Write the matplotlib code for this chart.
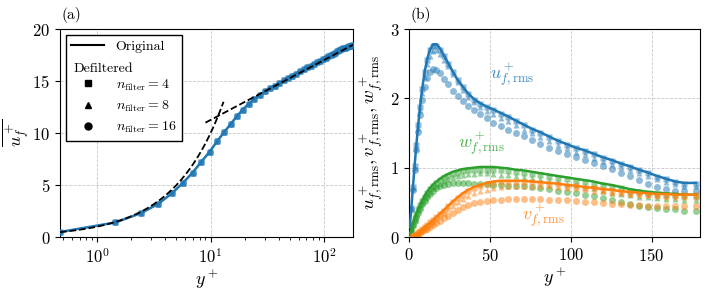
import numpy as np
import matplotlib
matplotlib.use("Agg")
import matplotlib.pyplot as plt
from matplotlib.lines import Line2D

plt.rcParams['font.family'] = 'serif'
plt.rcParams['font.serif'] = ['cmr10', 'DejaVu Serif']
plt.rcParams['mathtext.fontset'] = 'cm'
plt.rcParams['axes.formatter.use_mathtext'] = True
plt.rcParams['font.size'] = 10

# ---------------- data ----------------
yplus = [0.47, 1.45, 2.44, 3.47, 4.55, 5.70, 6.95, 8.30, 9.80, 11.4, 13.1, 15.0,
         17.0, 19.2, 21.6, 24.2, 27.0, 30.0, 33.2, 36.6, 40.2, 44.0, 48.0, 52.2,
         56.6, 61.2, 66.0, 71.0, 76.1, 81.3, 86.6, 92.0, 97.5, 103.0, 108.6, 114.2,
         119.8, 125.4, 131.0, 136.6, 142.2, 147.8, 153.4, 159.0, 164.6, 170.2, 177.5]

u_mean = [0.48, 1.4, 2.3, 3.2, 4.2, 5.2, 6.2, 7.25, 8.2, 9.2, 10.05, 10.85,
          11.6, 12.25, 12.8, 13.25, 13.65, 14.0, 14.3, 14.55, 14.8, 15.05, 15.3, 15.5,
          15.72, 15.92, 16.12, 16.3, 16.48, 16.65, 16.8, 16.95, 17.1, 17.25, 17.38, 17.5,
          17.62, 17.74, 17.85, 17.95, 18.05, 18.13, 18.2, 18.27, 18.32, 18.37, 18.42]

# rms profiles: original and defiltered (n_filter = 4, 8, 16)
u_rms_orig = [0.14, 0.42, 0.72, 1.03, 1.33, 1.62, 1.9, 2.16, 2.4, 2.58, 2.71, 2.78,
              2.78, 2.72, 2.62, 2.51, 2.39, 2.27, 2.17, 2.07, 1.99, 1.93, 1.88, 1.84,
              1.79, 1.74, 1.68, 1.62, 1.56, 1.51, 1.45, 1.39, 1.34, 1.29, 1.25, 1.2,
              1.15, 1.11, 1.06, 1.02, 0.97, 0.93, 0.88, 0.84, 0.80, 0.78, 0.78]
u_rms_n4 = [0.14, 0.42, 0.72, 1.02, 1.32, 1.61, 1.88, 2.14, 2.38, 2.56, 2.69, 2.76,
            2.76, 2.70, 2.61, 2.50, 2.38, 2.26, 2.16, 2.06, 1.98, 1.92, 1.87, 1.83,
            1.78, 1.73, 1.67, 1.61, 1.55, 1.50, 1.44, 1.38, 1.33, 1.28, 1.24, 1.19,
            1.14, 1.10, 1.05, 1.01, 0.96, 0.92, 0.87, 0.83, 0.79, 0.77, 0.77]
u_rms_n8 = [0.13, 0.41, 0.70, 1.0, 1.29, 1.57, 1.83, 2.08, 2.31, 2.49, 2.61, 2.68,
            2.69, 2.64, 2.56, 2.46, 2.35, 2.23, 2.12, 2.02, 1.94, 1.87, 1.82, 1.77,
            1.72, 1.67, 1.61, 1.55, 1.5, 1.44, 1.39, 1.33, 1.28, 1.23, 1.19, 1.14,
            1.1, 1.05, 1.01, 0.97, 0.92, 0.88, 0.84, 0.8, 0.76, 0.74, 0.73]
u_rms_n16 = [0.13, 0.4, 0.68, 0.97, 1.25, 1.52, 1.76, 1.98, 2.16, 2.3, 2.38, 2.42,
             2.41, 2.36, 2.28, 2.2, 2.11, 2.03, 1.96, 1.89, 1.83, 1.77, 1.71, 1.65,
             1.6, 1.55, 1.5, 1.45, 1.4, 1.34, 1.29, 1.24, 1.19, 1.15, 1.11, 1.07,
             1.03, 0.98, 0.93, 0.88, 0.82, 0.77, 0.72, 0.69, 0.67, 0.66, 0.66]

v_rms_orig = [0.0, 0.01, 0.02, 0.03, 0.05, 0.07, 0.09, 0.12, 0.15, 0.18, 0.21, 0.25,
              0.29, 0.34, 0.39, 0.45, 0.51, 0.57, 0.63, 0.68, 0.72, 0.75, 0.78, 0.8,
              0.81, 0.81, 0.81, 0.81, 0.8, 0.79, 0.78, 0.77, 0.75, 0.74, 0.72, 0.71,
              0.69, 0.68, 0.66, 0.65, 0.64, 0.63, 0.62, 0.62, 0.61, 0.61, 0.61]
v_rms_n4 = [0.0, 0.01, 0.02, 0.03, 0.05, 0.07, 0.09, 0.12, 0.15, 0.18, 0.21, 0.25,
            0.29, 0.33, 0.38, 0.44, 0.5, 0.56, 0.61, 0.66, 0.7, 0.73, 0.76, 0.78,
            0.79, 0.8, 0.8, 0.8, 0.79, 0.78, 0.77, 0.76, 0.74, 0.73, 0.71, 0.7,
            0.68, 0.67, 0.65, 0.64, 0.63, 0.62, 0.61, 0.61, 0.6, 0.6, 0.6]
v_rms_n8 = [0.0, 0.01, 0.02, 0.03, 0.04, 0.06, 0.08, 0.1, 0.13, 0.16, 0.19, 0.22,
            0.26, 0.3, 0.35, 0.4, 0.45, 0.5, 0.55, 0.59, 0.63, 0.66, 0.68, 0.7,
            0.72, 0.73, 0.74, 0.74, 0.74, 0.73, 0.73, 0.72, 0.71, 0.7, 0.69, 0.67,
            0.66, 0.64, 0.63, 0.62, 0.61, 0.6, 0.59, 0.58, 0.58, 0.57, 0.57]
v_rms_n16 = [0.0, 0.01, 0.01, 0.02, 0.03, 0.05, 0.06, 0.08, 0.1, 0.12, 0.14, 0.17,
             0.2, 0.23, 0.27, 0.31, 0.35, 0.39, 0.43, 0.46, 0.49, 0.51, 0.52, 0.53,
             0.54, 0.55, 0.55, 0.55, 0.55, 0.55, 0.54, 0.54, 0.53, 0.52, 0.51, 0.5,
             0.49, 0.48, 0.47, 0.46, 0.46, 0.45, 0.45, 0.44, 0.44, 0.44, 0.44]

w_rms_orig = [0.04, 0.12, 0.2, 0.27, 0.34, 0.41, 0.47, 0.54, 0.6, 0.66, 0.71, 0.76,
              0.8, 0.84, 0.88, 0.91, 0.94, 0.96, 0.98, 0.99, 1.0, 1.01, 1.01, 1.01,
              1.0, 0.99, 0.97, 0.96, 0.94, 0.92, 0.9, 0.88, 0.86, 0.84, 0.82, 0.8,
              0.77, 0.75, 0.72, 0.69, 0.67, 0.65, 0.64, 0.63, 0.62, 0.61, 0.61]
w_rms_n4 = [0.04, 0.12, 0.19, 0.26, 0.33, 0.4, 0.46, 0.52, 0.58, 0.64, 0.69, 0.74,
            0.78, 0.82, 0.85, 0.88, 0.91, 0.93, 0.95, 0.96, 0.97, 0.97, 0.97, 0.97,
            0.96, 0.95, 0.94, 0.93, 0.91, 0.89, 0.87, 0.85, 0.83, 0.81, 0.79, 0.77,
            0.75, 0.72, 0.7, 0.67, 0.65, 0.63, 0.62, 0.61, 0.6, 0.59, 0.59]
w_rms_n8 = [0.04, 0.11, 0.18, 0.25, 0.31, 0.37, 0.43, 0.49, 0.55, 0.6, 0.65, 0.7,
            0.74, 0.77, 0.81, 0.84, 0.86, 0.88, 0.9, 0.91, 0.91, 0.92, 0.92, 0.91,
            0.9, 0.89, 0.88, 0.87, 0.85, 0.83, 0.81, 0.79, 0.77, 0.75, 0.73, 0.7,
            0.67, 0.64, 0.62, 0.6, 0.58, 0.57, 0.56, 0.55, 0.55, 0.54, 0.54]
w_rms_n16 = [0.03, 0.1, 0.17, 0.23, 0.29, 0.35, 0.41, 0.47, 0.52, 0.57, 0.62, 0.66,
             0.7, 0.73, 0.75, 0.77, 0.78, 0.78, 0.78, 0.78, 0.77, 0.77, 0.76, 0.75,
             0.75, 0.74, 0.74, 0.73, 0.72, 0.71, 0.69, 0.67, 0.65, 0.63, 0.61, 0.59,
             0.56, 0.53, 0.5, 0.47, 0.45, 0.43, 0.42, 0.41, 0.4, 0.38, 0.37]

n_filters = [4, 8, 16]
markers = ['s', '^', 'o']

# law-of-the-wall constants
kappa = 0.4
B = 5.5

# ---------------- figure ----------------
fig = plt.figure(figsize=(7.08, 2.90), dpi=100)
axa = fig.add_axes([60/708, 53/290, 293/708, 208/290])
axb = fig.add_axes([409/708, 53/290, 291/708, 208/290])

C0, C1, C2 = '#1f77b4', '#ff7f0e', '#2ca02c'
grid_kw = dict(color='#c8c8c8', linestyle='--', linewidth=0.6)

# ---- panel (a)
y = np.array(yplus)
axa.plot(y, u_mean, color=C0, lw=1.8, zorder=2)
for m in markers:
    axa.plot(y, u_mean, ls='none', marker=m, ms=5, color=C0, alpha=0.6,
             mec='none', zorder=3)
yv = np.geomspace(0.47, 13.0, 60)
axa.plot(yv, yv, 'k--', lw=1.3, zorder=4)
yl = np.geomspace(9.0, 180.0, 60)
axa.plot(yl, np.log(yl) / kappa + B, 'k--', lw=1.3, zorder=4)
axa.set_xscale('log')
axa.set_xlim(0.47, 180)
axa.set_ylim(0, 20)
axa.set_yticks([0, 5, 10, 15, 20])
axa.grid(True, which='major', **grid_kw)
axa.set_xlabel('$y^+$', fontsize=13, labelpad=2)
axa.set_ylabel(r'$\overline{u_f^+}$', fontsize=13, labelpad=1)
axa.tick_params(labelsize=12)
axa.text(0.005, 1.03, '(a)', transform=axa.transAxes, fontsize=11, va='bottom')

handles = [Line2D([], [], color='k', lw=1.5),
           Line2D([], [], color='none', lw=0)]
labels = ['Original', ' ']
for nf, m in zip(n_filters, markers):
    handles.append(Line2D([], [], ls='none', marker=m, color='k', ms=5))
    labels.append(r'$n_\mathrm{filter} = %d$' % nf)
leg = axa.legend(handles, labels, loc='upper left', fontsize=10, fancybox=False,
                 edgecolor='k', framealpha=1, handlelength=2.4, borderaxespad=0.4,
                 labelspacing=0.42, handletextpad=0.8)
leg.get_frame().set_linewidth(1.0)
axa.text(0.045, 0.81, 'Defiltered', transform=axa.transAxes, fontsize=10,
         va='center', ha='left', zorder=10)

# ---- panel (b)
series = [
    (C0, u_rms_orig, [u_rms_n4, u_rms_n8, u_rms_n16]),
    (C2, w_rms_orig, [w_rms_n4, w_rms_n8, w_rms_n16]),
    (C1, v_rms_orig, [v_rms_n4, v_rms_n8, v_rms_n16]),
]
for col, orig, defs in series:
    for vals, m in zip(defs, markers):
        axb.plot(y, vals, ls='none', marker=m, ms=5, color=col, alpha=0.5,
                 mec='none', zorder=2)
    axb.plot(y, orig, color=col, lw=1.8, zorder=3)

axb.set_xlim(0, 180)
axb.set_ylim(0, 3)
axb.set_xticks([0, 50, 100, 150])
axb.set_yticks([0, 1, 2, 3])
axb.grid(True, which='major', **grid_kw)
axb.set_xlabel('$y^+$', fontsize=13, labelpad=2)
axb.set_ylabel(r'$u^+_{f,\mathrm{rms}}, v^+_{f,\mathrm{rms}}, w^+_{f,\mathrm{rms}}$',
               fontsize=13.5, labelpad=3)
axb.tick_params(labelsize=12)
axb.text(0.005, 1.03, '(b)', transform=axb.transAxes, fontsize=11, va='bottom')

axb.text(50, 2.33, r'$u^+_{f,\mathrm{rms}}$', color=C0, alpha=0.85, fontsize=13,
         ha='left', va='center')
axb.text(30, 1.33, r'$w^+_{f,\mathrm{rms}}$', color=C2, alpha=0.85, fontsize=13,
         ha='left', va='center')
axb.text(70, 0.3, r'$v^+_{f,\mathrm{rms}}$', color=C1, alpha=0.85, fontsize=13,
         ha='left', va='center')

fig.savefig('out.png', dpi=100)
